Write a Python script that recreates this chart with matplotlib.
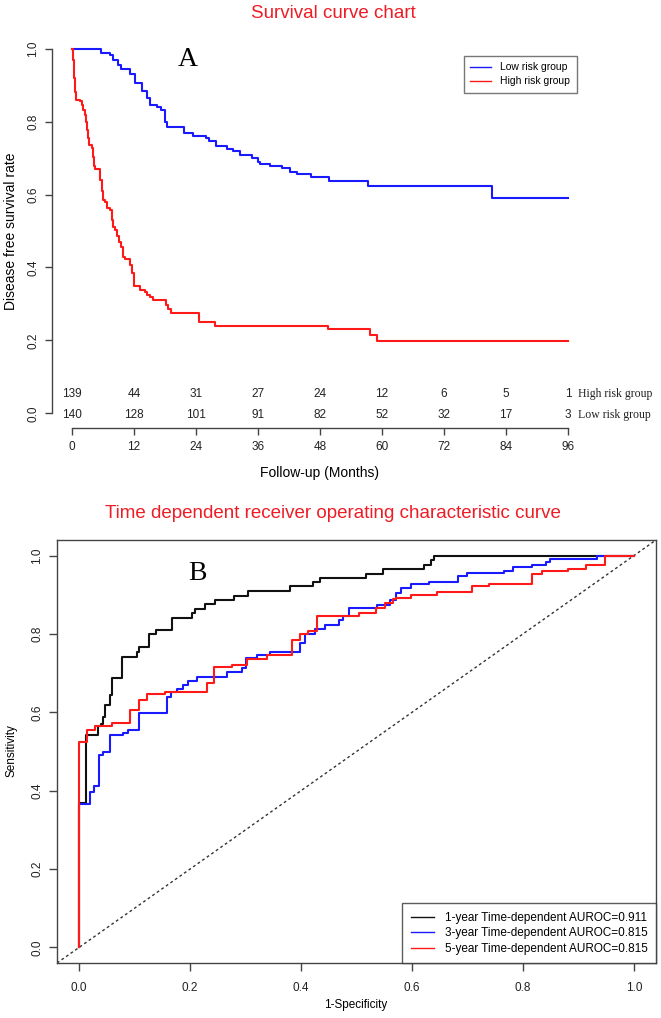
import matplotlib
matplotlib.use("Agg")
import matplotlib.pyplot as plt
from matplotlib.lines import Line2D

plt.rcParams['font.family'] = ['Liberation Sans', 'DejaVu Sans']

# ---------------- data: survival curves (months, survival) ----------------
low_t = [0, 5.7, 7.35, 8.0, 9.0, 9.6, 11.2, 12.2, 13.5, 14.5, 15.1, 16.4, 17.2, 18.0,
         18.4, 21.7, 23.5, 25.9, 26.6, 27.9, 30.0, 31.2, 32.5, 34.8, 36.1, 36.4, 38.3,
         40.6, 42.2, 43.5, 46.2, 49.8, 57.3, 81.3, 96]
low_s = [1.0, 0.988, 0.982, 0.970, 0.956, 0.944, 0.931, 0.906, 0.883, 0.864, 0.846, 0.840,
         0.832, 0.80, 0.784, 0.770, 0.761, 0.754, 0.747, 0.732, 0.726, 0.718, 0.709, 0.700,
         0.690, 0.684, 0.679, 0.672, 0.663, 0.656, 0.647, 0.638, 0.623, 0.591, 0.591]

high_t = [0, 0.2, 0.4, 0.6, 0.71, 1.55, 1.87, 2.19, 2.52, 2.71, 2.97, 3.2, 3.35, 3.81, 4.0,
          4.26, 4.45, 5.42, 5.74, 5.93, 6.39, 6.71, 7.35, 7.68, 8.0, 8.32, 8.77, 9.16, 9.42,
          9.81, 10.26, 11.2, 11.55, 12.0, 13.2, 14.1, 14.6, 15.1, 15.6, 18.2, 18.6, 19.1,
          24.5, 27.7, 49.6, 57.7, 59.1, 96]
high_s = [1.0, 0.97, 0.92, 0.88, 0.860, 0.855, 0.846, 0.832, 0.819, 0.80, 0.777, 0.755,
          0.736, 0.727, 0.704, 0.677, 0.670, 0.640, 0.61, 0.585, 0.580, 0.562, 0.558, 0.530,
          0.512, 0.503, 0.485, 0.471, 0.457, 0.430, 0.422, 0.407, 0.384, 0.348, 0.338,
          0.334, 0.325, 0.320, 0.312, 0.297, 0.285, 0.276, 0.251, 0.240, 0.232, 0.215,
          0.198, 0.198]

risk_times = [0, 12, 24, 36, 48, 60, 72, 84, 96]
risk_high = [139, 44, 31, 27, 24, 12, 6, 5, 1]
risk_low = [140, 128, 101, 91, 82, 52, 32, 17, 3]

# ---------------- data: time-dependent ROC (fpr, tpr) ----------------
roc1_fpr = [0, 0, 0.0126, 0.0348, 0.039, 0.0438, 0.0468, 0.0547, 0.0589, 0.0769, 0.104,
            0.108, 0.125, 0.139, 0.167, 0.203, 0.209, 0.227, 0.245, 0.279, 0.305, 0.380,
            0.422, 0.434, 0.517, 0.547, 0.622, 0.634, 0.640, 1.0]
roc1_tpr = [0, 0.369, 0.542, 0.564, 0.570, 0.589, 0.619, 0.644, 0.687, 0.742, 0.755,
            0.766, 0.801, 0.811, 0.842, 0.853, 0.863, 0.877, 0.887, 0.897, 0.909, 0.922,
            0.932, 0.943, 0.954, 0.965, 0.977, 0.988, 1.0, 1.0]

roc3_fpr = [0, 0, 0.0186, 0.0276, 0.0366, 0.0438, 0.0547, 0.0787, 0.0889, 0.108, 0.159,
            0.166, 0.176, 0.187, 0.196, 0.212, 0.266, 0.293, 0.301, 0.320, 0.344, 0.398,
            0.407, 0.425, 0.443, 0.469, 0.476, 0.487, 0.537, 0.561, 0.572, 0.581, 0.598,
            0.631, 0.683, 0.700, 0.766, 0.783, 0.817, 0.841, 0.849, 0.933, 1.0]
roc3_tpr = [0, 0.367, 0.397, 0.412, 0.491, 0.500, 0.542, 0.548, 0.555, 0.598, 0.640,
            0.653, 0.659, 0.670, 0.680, 0.689, 0.704, 0.713, 0.740, 0.747, 0.755, 0.778,
            0.800, 0.813, 0.822, 0.836, 0.845, 0.866, 0.875, 0.886, 0.904, 0.917, 0.927,
            0.934, 0.947, 0.955, 0.962, 0.970, 0.977, 0.984, 0.991, 1.0, 1.0]

roc5_fpr = [0, 0, 0.0138, 0.0288, 0.0589, 0.0919, 0.108, 0.122, 0.155, 0.173, 0.230,
            0.243, 0.275, 0.302, 0.338, 0.383, 0.398, 0.413, 0.428, 0.505, 0.536, 0.551,
            0.566, 0.572, 0.599, 0.645, 0.708, 0.739, 0.817, 0.834, 0.882, 0.914, 0.948, 1.0]
roc5_tpr = [0, 0.523, 0.555, 0.564, 0.572, 0.606, 0.632, 0.646, 0.651, 0.653, 0.674,
            0.715, 0.721, 0.736, 0.746, 0.785, 0.800, 0.807, 0.847, 0.853, 0.866, 0.879,
            0.889, 0.893, 0.900, 0.907, 0.922, 0.928, 0.954, 0.960, 0.967, 0.977, 1.0, 1.0]

roc_labels = ["1-year Time-dependent AUROC=0.911",
              "3-year Time-dependent AUROC=0.815",
              "5-year Time-dependent AUROC=0.815"]

# ---------------- figure ----------------
W, H = 661, 1018
fig = plt.figure(figsize=(W / 100, H / 100), dpi=100)

BLUE = '#1a1aff'
RED = '#ff1a1a'
AXC = '#444444'
TXT = '#222222'

def fx(px):
    return px / W

def fy(py):
    return 1 - py / H

# ----- panel A -----
ax1 = fig.add_axes([fx(52), fy(428), (588 - 52) / W, (428 - 34) / H])
ax1.plot(low_t, low_s, drawstyle='steps-post', color=BLUE, lw=1.5)
ax1.plot(high_t, high_s, drawstyle='steps-post', color=RED, lw=1.5)
ax1.set_xlim(-3.84, 99.84)
ax1.set_ylim(-0.04, 1.04)
for s in ['top', 'right']:
    ax1.spines[s].set_visible(False)
ax1.spines['left'].set_bounds(0, 1)
ax1.spines['bottom'].set_bounds(0, 96)
for s in ['left', 'bottom']:
    ax1.spines[s].set_color(AXC)
    ax1.spines[s].set_linewidth(1.0)
ax1.set_xticks(risk_times)
ax1.set_yticks([0, 0.2, 0.4, 0.6, 0.8, 1.0])
ax1.set_yticklabels(['0.0', '0.2', '0.4', '0.6', '0.8', '1.0'])
ax1.tick_params(axis='y', direction='out', length=5, width=1, color=AXC, pad=4,
                labelsize=8.5, labelrotation=90, labelcolor=TXT)
ax1.tick_params(axis='x', direction='out', length=5, width=1, color=AXC, pad=4,
                labelsize=8.5, labelcolor=TXT)
for lab in ax1.get_yticklabels():
    lab.set_va('center')

for t, nh, nl in zip(risk_times, risk_high, risk_low):
    ax1.text(t, 0.052, str(nh), ha='center', va='center', fontsize=8.5, color=TXT)
    ax1.text(t, -0.003, str(nl), ha='center', va='center', fontsize=8.5, color=TXT)
ax1.text(97.9, 0.052, 'High risk group', ha='left', va='center', fontsize=8.5,
         family='Liberation Serif', clip_on=False, color=TXT)
ax1.text(97.9, -0.003, 'Low risk group', ha='left', va='center', fontsize=8.5,
         family='Liberation Serif', clip_on=False, color=TXT)

leg1 = ax1.legend([Line2D([], [], color=BLUE, lw=1), Line2D([], [], color=RED, lw=1)],
                  ['Low risk group', 'High risk group'],
                  loc='upper left', bbox_to_anchor=((464 - 52) / 536, 1 - (56 - 34) / 394),
                  borderaxespad=0, fontsize=7.5, fancybox=False, frameon=True,
                  handlelength=2.0, handletextpad=0.9, borderpad=0.6, labelspacing=0.4)
leg1.get_frame().set_edgecolor('#555555')
leg1.get_frame().set_linewidth(1.0)

fig.text(fx(333), fy(13), 'Survival curve chart', color='#ee1c25', fontsize=13.5,
         ha='center', va='center')
fig.text(fx(188), fy(60), 'A', family='Liberation Serif', fontsize=20, ha='center', va='center')
fig.text(fx(320), fy(473), 'Follow-up (Months)', fontsize=10, ha='center', va='center')
fig.text(fx(11), fy(231), 'Disease free survival rate', fontsize=10, rotation=90,
         ha='center', va='center')

# ----- panel B -----
ax2 = fig.add_axes([fx(57), fy(963), (656 - 57) / W, (963 - 540) / H])
ax2.axline((0, 0), slope=1, color='#333333', lw=1, linestyle=(0, (2, 2)))
ax2.plot(roc1_fpr, roc1_tpr, drawstyle='steps-post', color='#111111', lw=1.5)
ax2.plot(roc3_fpr, roc3_tpr, drawstyle='steps-post', color=BLUE, lw=1.5)
ax2.plot(roc5_fpr, roc5_tpr, drawstyle='steps-post', color=RED, lw=1.5)
ax2.set_xlim(-0.04, 1.04)
ax2.set_ylim(-0.04, 1.04)
ticks = [0, 0.2, 0.4, 0.6, 0.8, 1.0]
tl = ['0.0', '0.2', '0.4', '0.6', '0.8', '1.0']
ax2.set_xticks(ticks)
ax2.set_xticklabels(tl)
ax2.set_yticks(ticks)
ax2.set_yticklabels(tl)
for s in ax2.spines.values():
    s.set_color(AXC)
    s.set_linewidth(1.0)
ax2.tick_params(axis='y', direction='out', length=6, width=1, color=AXC, pad=4,
                labelsize=8.5, labelrotation=90, labelcolor=TXT)
ax2.tick_params(axis='x', direction='out', length=6, width=1, color=AXC, pad=8,
                labelsize=8.5, labelcolor=TXT)
for lab in ax2.get_yticklabels():
    lab.set_va('center')

leg2 = ax2.legend([Line2D([], [], color='#111111', lw=1), Line2D([], [], color=BLUE, lw=1),
                   Line2D([], [], color=RED, lw=1)], roc_labels,
                  loc='lower right', borderaxespad=0, fontsize=8.5, fancybox=False,
                  frameon=True, handlelength=2.0, handletextpad=0.9, borderpad=0.7,
                  labelspacing=0.3)
leg2.get_frame().set_edgecolor('#333333')
leg2.get_frame().set_linewidth(1.0)

fig.text(fx(333), fy(513), 'Time dependent receiver operating characteristic curve',
         color='#ee1c25', fontsize=13.5, ha='center', va='center')
fig.text(fx(197), fy(574), 'B', family='Liberation Serif', fontsize=20, ha='center', va='center')
fig.text(fx(356), fy(1005), '1-Specificity', fontsize=8.5, ha='center', va='center')
fig.text(fx(11), fy(751), 'Sensitivity', fontsize=8.5, rotation=90, ha='center', va='center')

fig.savefig('out.png', dpi=100)
